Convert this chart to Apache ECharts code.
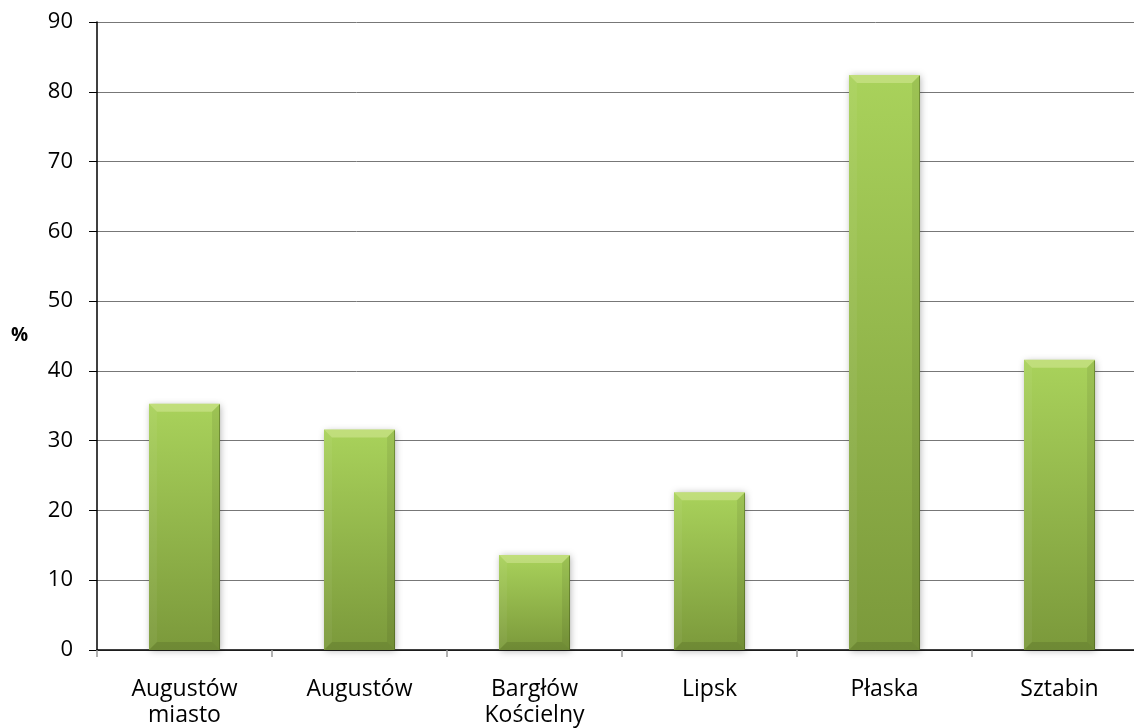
<!DOCTYPE html>
<html>
<head>
<meta charset="utf-8">
<script src="https://cdn.jsdelivr.net/npm/echarts@6/dist/echarts.min.js"></script>
<style>
html,body{margin:0;padding:0;background:#fff;}
#chart{width:1134px;height:728px;}
</style>
</head>
<body>
<div id="chart"></div>
<script>
const categories = ['Augustów\nmiasto', 'Augustów', 'Bargłów\nKościelny', 'Lipsk', 'Płaska', 'Sztabin'];
const values = [35.3, 31.6, 13.6, 22.6, 82.4, 41.6];
const yTicks = { min: 0, max: 90, interval: 10 };

const chart = echarts.init(document.getElementById('chart'));
const FONT = '"Open Sans", "Liberation Sans", sans-serif';

// Bevelled column: gradient face, soft edge facets and a drop shadow
function renderBevelBar(params, api) {
  const idx = api.value(0);
  const val = api.value(1);
  const top = api.coord([idx, val]);
  const base = api.coord([idx, 0]);
  const w = api.size([1, 0])[0] * 0.406;
  const x0 = top[0] - w / 2, x1 = top[0] + w / 2;
  const y0 = top[1], y1 = base[1];
  const h = y1 - y0;
  const b = Math.min(8, h / 2, w / 2);
  return {
    type: 'group',
    children: [
      {
        type: 'rect',
        shape: { x: x0, y: y0, width: w, height: h },
        style: {
          fill: new echarts.graphic.LinearGradient(0, 0, 0, 1, [
            { offset: 0, color: '#a9d25b' }, { offset: 1, color: '#7b993b' }
          ]),
          shadowColor: 'rgba(0,0,0,0.3)', shadowBlur: 7, shadowOffsetX: 1, shadowOffsetY: 1
        }
      },
      { // top facet
        type: 'polygon',
        shape: { points: [[x0, y0], [x1, y0], [x1 - b, y0 + b], [x0 + b, y0 + b]] },
        style: { fill: 'rgba(255,255,210,0.28)' }
      },
      { // left facet
        type: 'polygon',
        shape: { points: [[x0, y0], [x0 + b, y0 + b], [x0 + b, y1 - b], [x0, y1]] },
        style: { fill: 'rgba(255,255,255,0.05)' }
      },
      { // right facet
        type: 'polygon',
        shape: { points: [[x1, y0], [x1, y1], [x1 - b, y1 - b], [x1 - b, y0 + b]] },
        style: { fill: 'rgba(0,0,0,0.07)' }
      },
      { // bottom facet
        type: 'polygon',
        shape: { points: [[x0, y1], [x0 + b, y1 - b], [x1 - b, y1 - b], [x1, y1]] },
        style: { fill: 'rgba(0,0,0,0.1)' }
      },
      { // darker right rim
        type: 'line',
        shape: { x1: x1 - 0.5, y1: y0 + 1, x2: x1 - 0.5, y2: y1 },
        style: { stroke: 'rgba(60,80,20,0.45)', lineWidth: 1 }
      }
    ]
  };
}

chart.setOption({
  animation: false,
  backgroundColor: '#fff',
  grid: { left: 97, top: 22, width: 1050, height: 628, outerBoundsMode: 'none', containLabel: false },
  xAxis: {
    type: 'category',
    data: categories,
    axisLine: { lineStyle: { color: '#000', width: 1.5 } },
    axisTick: { show: true, length: 7, lineStyle: { color: '#999', width: 1.5 } },
    axisLabel: { color: '#000', fontSize: 23, fontFamily: FONT, margin: 26, lineHeight: 26 }
  },
  yAxis: {
    type: 'value',
    min: yTicks.min, max: yTicks.max, interval: yTicks.interval,
    name: '%',
    nameLocation: 'middle',
    nameGap: 69,
    nameRotate: 0,
    nameTextStyle: { color: '#000', fontSize: 19, fontWeight: 'bold', fontFamily: FONT, padding: [8, 0, 0, 0] },
    axisLine: { show: true, lineStyle: { color: '#000', width: 1.5 } },
    axisTick: { show: true, length: 8, lineStyle: { color: '#000' } },
    axisLabel: { color: '#000', fontSize: 22, fontFamily: FONT, margin: 24 },
    splitLine: { lineStyle: { color: '#777', width: 1 } }
  },
  series: [{
    type: 'custom',
    renderItem: renderBevelBar,
    encode: { x: 0, y: 1 },
    data: values.map((v, i) => [i, v])
  }]
});
</script>
</body>
</html>
